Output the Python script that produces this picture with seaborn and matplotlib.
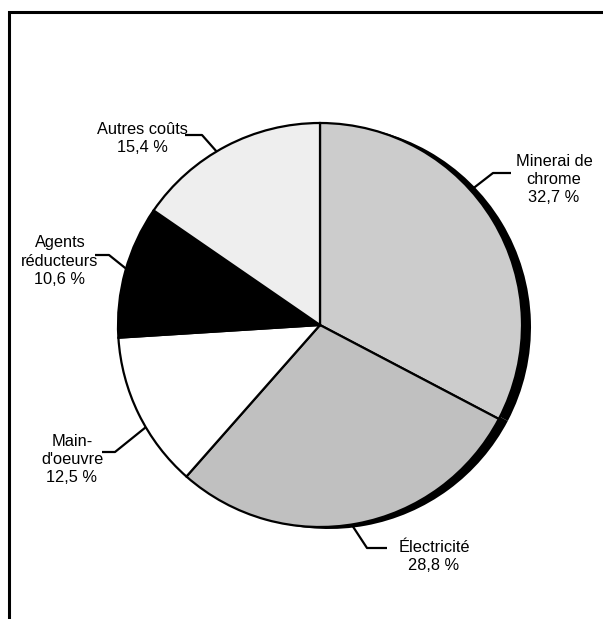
import numpy as np
import matplotlib
matplotlib.use("Agg")
import matplotlib.pyplot as plt
from matplotlib.patches import Rectangle
import seaborn as sns

sns.set_theme(style="white")
plt.rcParams["font.family"] = ["Liberation Sans", "DejaVu Sans"]

# Cost shares of ferrochrome production
categories = ["Minerai de\nchrome", "Électricité", "Main-\nd'oeuvre",
              "Agents\nréducteurs", "Autres coûts"]
shares = [32.7, 28.8, 12.5, 10.6, 15.4]
share_labels = ["32,7 %", "28,8 %", "12,5 %", "10,6 %", "15,4 %"]
colors = ["#cccccc", "#c0c0c0", "#ffffff", "#000000", "#eeeeee"]

W, H = 603, 619
fig = plt.figure(figsize=(W / 100, H / 100), dpi=100)
ax = fig.add_axes([0, 0, 1, 1])

cx, cy, r = 320, H - 325, 202

# drop shadow behind the pie
ax.pie(shares, colors=["black"] * len(shares), startangle=90, counterclock=False,
       center=(cx + 9, cy - 2), radius=r, frame=True,
       wedgeprops=dict(linewidth=0))

wedges, _ = ax.pie(shares, colors=colors, startangle=90, counterclock=False,
                   center=(cx, cy), radius=r, frame=True,
                   wedgeprops=dict(edgecolor="black", linewidth=1.6))
ax.set_xlim(0, W)
ax.set_ylim(0, H)
ax.set_aspect("equal")
ax.axis("off")

# leader layout: (rim angle, elbow, line end, text centre) in pixels from top-left
layout = [
    (41.8, (493, 173), (511, 173), (554, 180)),
    (-81.0, (367, 548), (387, 548), (434, 557)),
    (210.4, (115, 452), (102, 452), (72, 460)),
    (163.8, (109, 255), (95, 255), (60, 261)),
    (120.8, (202, 135), (185, 135), (142, 138)),
]

for cat, lab, (deg, elbow, end, txt) in zip(categories, share_labels, layout):
    ang = np.deg2rad(deg)
    px, py = cx + r * np.cos(ang), cy + r * np.sin(ang)
    ax.plot([px, elbow[0], end[0]], [py, H - elbow[1], H - end[1]],
            color="black", lw=1.6, solid_capstyle="butt", zorder=5)
    ax.text(txt[0], H - txt[1], f"{cat}\n{lab}", ha="center", va="center",
            fontsize=11.8, linespacing=1.25, color="black")

# outer frame
fig.patches.append(Rectangle((8.5 / W, -0.2), 1.2, 1.2 - (12.5 / H),
                             transform=fig.transFigure, fill=False,
                             edgecolor="black", linewidth=2.2))

fig.savefig("out.png", dpi=100)
